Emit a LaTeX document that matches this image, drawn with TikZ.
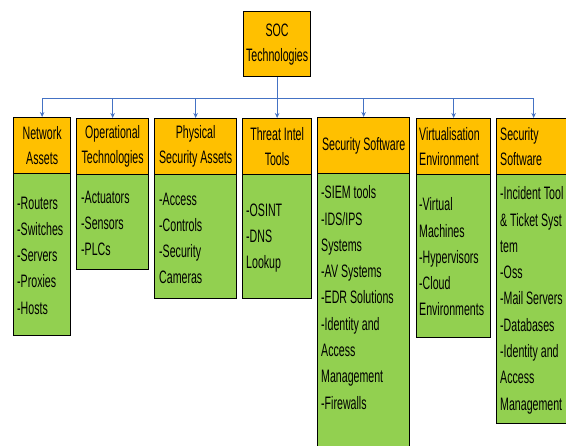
\documentclass[tikz,border=0pt]{standalone}
\usepackage{fontspec}
\setmainfont{Liberation Sans}[FakeStretch=0.59]
\usetikzlibrary{arrows.meta}
\definecolor{hdr}{HTML}{FFC000}
\definecolor{bod}{HTML}{92D050}
\definecolor{linkc}{HTML}{4472C4}
\begin{document}
\begin{tikzpicture}[x=1pt,y=-1pt,
  box/.style={draw=black, line width=1.3pt, inner sep=0pt, anchor=north west},
  hbox/.style={box, fill=hdr, align=center, font=\fontsize{18}{25}\selectfont},
  bbox/.style={box, fill=bod},
  txt/.style={font=\fontsize{18}{26.3}\selectfont, inner sep=0pt, align=left, anchor=north west},
  htxt/.style={font=\fontsize{18}{25}\selectfont, inner sep=0pt, align=left, anchor=west},
  link/.style={draw=linkc, line width=1.1pt, -{Stealth[length=5pt,width=4.5pt]}}]
\useasboundingbox (0,0) rectangle (566,446);

% body boxes
\node[bbox, minimum width=57pt, minimum height=162pt] (b1) at (13,173) {};
\node[bbox, minimum width=72pt, minimum height=96pt]  (b2) at (76,173) {};
\node[bbox, minimum width=82pt, minimum height=125pt] (b3) at (154,173) {};
\node[bbox, minimum width=69pt, minimum height=125pt] (b4) at (242,173) {};
\node[bbox, minimum width=92pt, minimum height=277pt] (b5) at (317,173) {};
\node[bbox, minimum width=74pt, minimum height=164pt] (b6) at (416,173) {};
\node[bbox, minimum width=74pt, minimum height=250pt] (b7) at (496,173) {};

% header boxes
\node[hbox, minimum width=67pt, minimum height=65pt] (root) at (243,11) {SOC\\Technologies};
\node[hbox, minimum width=57pt, minimum height=56pt] (h1) at (13,117) {Network\\Assets};
\node[hbox, minimum width=72pt, minimum height=56pt] (h2) at (76,118) {Operational\\Technologies};
\node[hbox, minimum width=82pt, minimum height=56pt] (h3) at (154,118) {Physical\\Security Assets};
\node[hbox, minimum width=69pt, minimum height=56pt] (h4) at (242,118) {Threat Intel\\Tools};
\node[hbox, minimum width=92pt, minimum height=56pt] (h5) at (317,117) {Security Software};
\node[hbox, minimum width=74pt, minimum height=56pt] (h6) at (416,118) {};
\node[hbox, minimum width=74pt, minimum height=56pt] (h7) at (496,118) {};
\node[htxt] (h6t) at (419,146.5) {Virtualisation\\Environment};
\node[htxt] (h7t) at (500,147) {Security\\Software};

% body texts
\node[txt] (l1) at (17,196.5) {-Routers\\-Switches\\-Servers\\-Proxies\\-Hosts};
\node[txt] (l2) at (81,190.5) {-Actuators\\-Sensors\\-PLCs};
\node[txt] (l3) at (159,192.5) {-Access\\-Controls\\-Security\\Cameras};
\node[txt] (l4) at (246,203.5) {-OSINT\\-DNS\\Lookup};
\node[txt] (l5) at (321,185.5) {-SIEM tools\\-IDS/IPS\\Systems\\-AV Systems\\-EDR Solutions\\-Identity and\\Access\\Management\\-Firewalls};
\node[txt] (l6) at (419,197.5) {-Virtual\\Machines\\-Hypervisors\\-Cloud\\Environments};
\node[txt] (l7) at (500,186.5) {-Incident Tool\\\& Ticket Syst\\tem\\-Oss\\-Mail Servers\\-Databases\\-Identity and\\Access\\Management};

% connectors
\foreach \h in {h1,h2,h3,h5,h6,h7}
  \draw[link] (root.south) -- ++(0,21) -| (\h.north);
\draw[link] (root.south) -- (h4.north);
\end{tikzpicture}
\end{document}
